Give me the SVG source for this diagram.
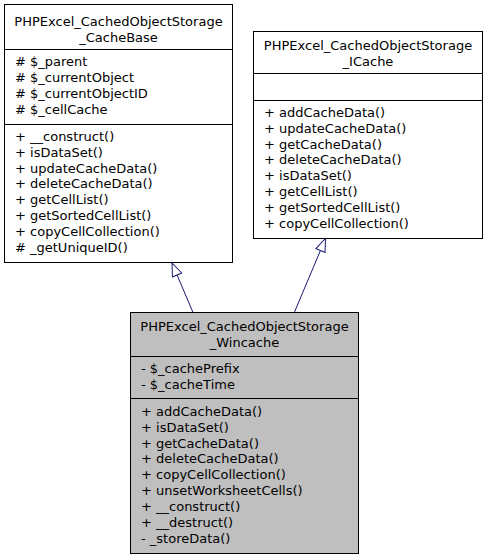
<svg xmlns="http://www.w3.org/2000/svg" width="488" height="560" viewBox="0 0 488 560">
<defs>
<marker id="inh" viewBox="0 0 13 10" refX="13" refY="5" markerWidth="13" markerHeight="10" markerUnits="userSpaceOnUse" orient="auto" overflow="visible">
<path d="M0,0 L13,5 L0,10 Z" fill="#ffffff" stroke="#191970" stroke-width="1"/>
</marker>
</defs>
<style>
text{font-family:"DejaVu Sans","Liberation Sans",sans-serif;font-size:13px;fill:#000}
.t{text-anchor:middle}
.box{fill:#ffffff;stroke:#000;stroke-width:1}
.cur{fill:#bfbfbf;stroke:#000;stroke-width:1}
.sep{stroke:#000;stroke-width:1}
.edge{stroke:#191970;stroke-width:1;fill:none;marker-end:url(#inh)}
</style>
<rect width="488" height="560" fill="#ffffff"/>
<g id="edges">
<line class="edge" x1="193" y1="312.5" x2="172" y2="263"/>
<line class="edge" x1="294.3" y1="312.5" x2="325.5" y2="238.5"/>
</g>
<g id="CacheBase">
<rect class="box" x="4.5" y="4.5" width="228" height="258"/>
<line class="sep" x1="4.5" y1="49.5" x2="232.5" y2="49.5"/>
<line class="sep" x1="4.5" y1="124.5" x2="232.5" y2="124.5"/>
<text class="t" x="118.5" y="26">PHPExcel_CachedObjectStorage</text>
<text class="t" x="118.5" y="41.5">_CacheBase</text>
<text x="15" y="66.3"># $_parent</text>
<text x="15" y="82.15"># $_currentObject</text>
<text x="15" y="98"># $_currentObjectID</text>
<text x="15" y="113.85"># $_cellCache</text>
<text x="15" y="140.8">+ __construct()</text>
<text x="15" y="156.65">+ isDataSet()</text>
<text x="15" y="172.5">+ updateCacheData()</text>
<text x="15" y="188.35">+ deleteCacheData()</text>
<text x="15" y="204.2">+ getCellList()</text>
<text x="15" y="220.05">+ getSortedCellList()</text>
<text x="15" y="235.9">+ copyCellCollection()</text>
<text x="15" y="251.75"># _getUniqueID()</text>
</g>
<g id="ICache">
<rect class="box" x="253.5" y="31.5" width="229" height="207"/>
<line class="sep" x1="253.5" y1="73.5" x2="482.5" y2="73.5"/>
<line class="sep" x1="253.5" y1="100.5" x2="482.5" y2="100.5"/>
<text class="t" x="368" y="50">PHPExcel_CachedObjectStorage</text>
<text class="t" x="368" y="65.5">_ICache</text>
<text x="264" y="116.8">+ addCacheData()</text>
<text x="264" y="132.65">+ updateCacheData()</text>
<text x="264" y="148.5">+ getCacheData()</text>
<text x="264" y="164.35">+ deleteCacheData()</text>
<text x="264" y="180.2">+ isDataSet()</text>
<text x="264" y="196.05">+ getCellList()</text>
<text x="264" y="211.9">+ getSortedCellList()</text>
<text x="264" y="227.75">+ copyCellCollection()</text>
</g>
<g id="Wincache">
<rect class="cur" x="130.5" y="312.5" width="228" height="241"/>
<line class="sep" x1="130.5" y1="356.5" x2="358.5" y2="356.5"/>
<line class="sep" x1="130.5" y1="398.5" x2="358.5" y2="398.5"/>
<text class="t" x="244.5" y="331">PHPExcel_CachedObjectStorage</text>
<text class="t" x="244.5" y="347">_Wincache</text>
<text x="141" y="372.8">- $_cachePrefix</text>
<text x="141" y="388.65">- $_cacheTime</text>
<text x="141" y="415.8">+ addCacheData()</text>
<text x="141" y="431.65">+ isDataSet()</text>
<text x="141" y="447.5">+ getCacheData()</text>
<text x="141" y="463.35">+ deleteCacheData()</text>
<text x="141" y="479.2">+ copyCellCollection()</text>
<text x="141" y="495.05">+ unsetWorksheetCells()</text>
<text x="141" y="510.9">+ __construct()</text>
<text x="141" y="526.75">+ __destruct()</text>
<text x="141" y="542.6">- _storeData()</text>
</g>
</svg>
